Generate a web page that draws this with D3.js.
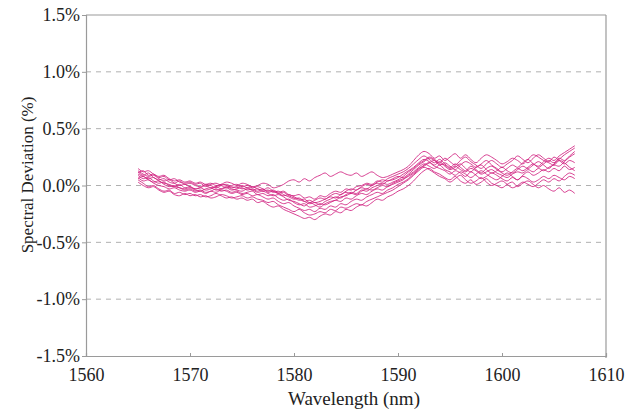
<!DOCTYPE html>
<html><head><meta charset="utf-8">
<script src="https://cdn.jsdelivr.net/npm/d3@7"></script>
<style>body{margin:0;background:#fff}svg{display:block}text{font-family:"Liberation Serif","Times New Roman",serif;fill:#222}</style>
</head><body><svg id="c" width="639" height="410"></svg>
<script>
const yTicks = [-1.5,-1.0,-0.5,0.0,0.5,1.0,1.5];
const xTicks = [1560,1570,1580,1590,1600,1610];
const wavelengths = [1565,1565.5,1566,1566.5,1567,1567.5,1568,1568.5,1569,1569.5,
1570,1570.5,1571,1571.5,1572,1572.5,1573,1573.5,1574,1574.5,
1575,1575.5,1576,1576.5,1577,1577.5,1578,1578.5,1579,1579.5,
1580,1580.5,1581,1581.5,1582,1582.5,1583,1583.5,1584,1584.5,
1585,1585.5,1586,1586.5,1587,1587.5,1588,1588.5,1589,1589.5,
1590,1590.5,1591,1591.5,1592,1592.5,1593,1593.5,1594,1594.5,
1595,1595.5,1596,1596.5,1597,1597.5,1598,1598.5,1599,1599.5,
1600,1600.5,1601,1601.5,1602,1602.5,1603,1603.5,1604,1604.5,
1605,1605.5,1606,1606.5,1607];
const sA = [0.10,0.08,0.06,0.07,0.04,0.02,0.01,-0.01,-0.02,-0.03,
-0.02,-0.04,-0.05,-0.03,-0.02,-0.04,-0.03,-0.01,-0.03,-0.04,
-0.05,-0.03,-0.04,-0.06,-0.05,-0.07,-0.09,-0.08,-0.10,-0.13,
-0.14,-0.16,-0.18,-0.15,-0.17,-0.19,-0.16,-0.14,-0.13,-0.10,
-0.09,-0.07,-0.08,-0.05,-0.03,-0.04,-0.02,0.00,-0.01,0.02,
0.04,0.06,0.08,0.11,0.15,0.17,0.20,0.22,0.19,0.18,
0.15,0.17,0.14,0.12,0.15,0.13,0.10,0.12,0.14,0.11,
0.09,0.07,0.10,0.12,0.11,0.14,0.12,0.15,0.13,0.16,
0.18,0.17,0.21,0.25,0.28];
const sB = [0.15,0.12,0.13,0.10,0.08,0.09,0.06,0.04,0.05,0.03,
0.04,0.02,0.03,0.01,0.02,0.00,0.01,0.03,0.02,0.00,
0.02,0.01,-0.01,0.00,0.02,0.01,-0.02,-0.01,0.01,0.04,
0.05,0.03,0.06,0.04,0.07,0.09,0.11,0.08,0.10,0.12,
0.10,0.09,0.11,0.08,0.10,0.12,0.09,0.07,0.08,0.10,
0.12,0.14,0.17,0.22,0.27,0.30,0.28,0.24,0.26,0.22,
0.25,0.28,0.24,0.27,0.23,0.20,0.24,0.27,0.25,0.22,
0.19,0.21,0.24,0.22,0.19,0.23,0.27,0.25,0.22,0.20,
0.18,0.22,0.20,0.16,0.13];
const sC = [0.05,0.02,-0.01,0.00,-0.03,-0.05,-0.04,-0.07,-0.06,-0.08,
-0.07,-0.09,-0.08,-0.10,-0.09,-0.07,-0.09,-0.11,-0.10,-0.12,
-0.11,-0.13,-0.12,-0.15,-0.14,-0.17,-0.19,-0.18,-0.21,-0.23,
-0.25,-0.27,-0.29,-0.28,-0.30,-0.27,-0.25,-0.26,-0.23,-0.24,
-0.21,-0.22,-0.19,-0.17,-0.18,-0.15,-0.12,-0.13,-0.10,-0.08,
-0.05,-0.03,0.00,0.04,0.09,0.13,0.15,0.12,0.10,0.07,
0.05,0.08,0.04,0.02,0.05,0.01,0.03,0.06,0.02,0.00,
-0.02,0.01,0.03,-0.01,0.02,0.04,0.01,-0.02,0.00,-0.03,
-0.05,-0.02,-0.06,-0.04,-0.07];
const sD = [0.12,0.09,0.11,0.07,0.05,0.06,0.03,0.02,0.04,0.01,
0.02,0.00,-0.01,0.01,0.00,-0.02,0.00,0.01,-0.01,-0.02,
0.00,-0.02,-0.01,-0.03,-0.04,-0.02,-0.05,-0.07,-0.06,-0.09,
-0.11,-0.13,-0.12,-0.15,-0.13,-0.11,-0.12,-0.09,-0.07,-0.08,
-0.05,-0.03,-0.04,-0.01,0.01,0.00,0.03,0.05,0.04,0.06,
0.08,0.07,0.10,0.14,0.18,0.21,0.24,0.22,0.18,0.20,
0.17,0.14,0.18,0.21,0.19,0.16,0.19,0.22,0.18,0.15,
0.12,0.15,0.18,0.16,0.20,0.23,0.19,0.17,0.21,0.24,
0.22,0.26,0.29,0.32,0.35];
const sE = [0.07,0.04,0.05,0.02,0.00,-0.01,-0.03,-0.02,-0.04,-0.05,
-0.04,-0.06,-0.05,-0.07,-0.05,-0.06,-0.04,-0.05,-0.07,-0.06,
-0.08,-0.07,-0.09,-0.08,-0.10,-0.12,-0.11,-0.14,-0.16,-0.15,
-0.18,-0.20,-0.22,-0.21,-0.23,-0.20,-0.21,-0.18,-0.19,-0.16,
-0.17,-0.14,-0.12,-0.13,-0.10,-0.08,-0.06,-0.07,-0.04,-0.02,
0.01,0.03,0.06,0.10,0.14,0.18,0.20,0.17,0.15,0.13,
0.10,0.13,0.11,0.08,0.12,0.09,0.06,0.08,0.11,0.09,
0.06,0.04,0.07,0.05,0.08,0.06,0.03,0.05,0.08,0.06,
0.09,0.07,0.05,0.08,0.06];
const sF = [0.13,0.10,0.08,0.09,0.06,0.04,0.05,0.02,0.00,0.01,
-0.01,-0.03,-0.02,-0.04,-0.03,-0.01,-0.03,-0.02,-0.04,-0.03,
-0.02,-0.04,-0.03,-0.05,-0.03,-0.06,-0.05,-0.07,-0.09,-0.08,
-0.10,-0.12,-0.14,-0.13,-0.15,-0.14,-0.12,-0.10,-0.11,-0.08,
-0.06,-0.07,-0.04,-0.02,-0.03,0.00,0.02,0.01,0.04,0.05,
0.07,0.10,0.13,0.16,0.20,0.23,0.21,0.18,0.21,0.17,
0.14,0.16,0.19,0.15,0.12,0.16,0.18,0.14,0.11,0.13,
0.16,0.13,0.11,0.14,0.17,0.15,0.18,0.21,0.18,0.15,
0.19,0.23,0.27,0.30,0.33];
const sG = [0.03,0.00,-0.02,-0.01,-0.04,-0.06,-0.05,-0.08,-0.09,-0.07,
-0.09,-0.08,-0.10,-0.09,-0.11,-0.10,-0.08,-0.09,-0.11,-0.10,
-0.09,-0.11,-0.10,-0.12,-0.13,-0.15,-0.14,-0.17,-0.19,-0.21,
-0.23,-0.21,-0.24,-0.26,-0.25,-0.23,-0.24,-0.21,-0.22,-0.19,
-0.20,-0.18,-0.16,-0.17,-0.14,-0.12,-0.10,-0.08,-0.06,-0.04,
-0.01,0.02,0.05,0.09,0.13,0.16,0.14,0.11,0.08,0.06,
0.03,0.06,0.09,0.05,0.02,0.04,0.07,0.03,0.00,0.02,
0.04,0.01,-0.02,0.00,0.03,0.01,-0.01,0.02,0.05,0.03,
0.06,0.04,0.08,0.11,0.09];
const sH = [0.09,0.06,0.07,0.04,0.02,0.03,0.00,-0.01,0.01,-0.02,
-0.01,-0.03,-0.02,0.00,-0.02,-0.01,0.01,0.00,-0.02,-0.01,
-0.03,-0.02,-0.04,-0.03,-0.05,-0.04,-0.06,-0.05,-0.08,-0.10,
-0.12,-0.11,-0.14,-0.16,-0.15,-0.17,-0.14,-0.12,-0.10,-0.11,
-0.08,-0.06,-0.07,-0.04,-0.05,-0.02,0.00,0.02,0.01,0.03,
0.05,0.08,0.12,0.15,0.19,0.22,0.25,0.23,0.20,0.24,
0.21,0.18,0.22,0.25,0.21,0.18,0.15,0.19,0.22,0.19,
0.16,0.19,0.22,0.26,0.23,0.20,0.24,0.27,0.24,0.21,
0.25,0.22,0.19,0.22,0.20];
const sI = [0.06,0.08,0.05,0.03,0.04,0.01,-0.01,0.00,-0.02,-0.04,
-0.03,-0.05,-0.04,-0.06,-0.05,-0.03,-0.05,-0.04,-0.06,-0.05,
-0.07,-0.06,-0.05,-0.08,-0.07,-0.09,-0.08,-0.11,-0.13,-0.12,
-0.15,-0.17,-0.16,-0.19,-0.18,-0.16,-0.17,-0.15,-0.13,-0.14,
-0.11,-0.12,-0.09,-0.07,-0.08,-0.05,-0.03,-0.04,-0.01,0.01,
0.03,0.05,0.09,0.12,0.16,0.19,0.17,0.15,0.18,0.14,
0.12,0.09,0.12,0.10,0.07,0.10,0.13,0.10,0.07,0.05,
0.08,0.11,0.08,0.05,0.09,0.12,0.09,0.11,0.14,0.12,
0.15,0.13,0.17,0.14,0.16];
const sJ = [0.11,0.13,0.09,0.10,0.07,0.08,0.05,0.06,0.03,0.02,
0.03,0.01,0.02,-0.01,0.01,0.02,0.00,-0.02,0.00,0.01,
-0.01,0.00,-0.02,-0.01,-0.03,-0.05,-0.04,-0.06,-0.05,-0.08,
-0.09,-0.08,-0.11,-0.10,-0.12,-0.09,-0.10,-0.07,-0.05,-0.06,
-0.03,-0.04,-0.01,0.00,0.02,0.01,0.04,0.03,0.06,0.08,
0.10,0.12,0.15,0.19,0.23,0.26,0.23,0.20,0.23,0.19,
0.16,0.19,0.16,0.13,0.17,0.14,0.11,0.15,0.17,0.14,
0.11,0.09,0.12,0.15,0.13,0.16,0.19,0.16,0.19,0.22,
0.20,0.24,0.22,0.26,0.30];
const seriesList = [sA,sB,sC,sD,sE,sF,sG,sH,sI,sJ];

const svg = d3.select("#c");
const L = 86, R = 606, T = 15, B = 356;
const x = d3.scaleLinear().domain([1560,1610]).range([L,R]);
const y = d3.scaleLinear().domain([-1.5,1.5]).range([B,T]);
const axisColor = "#9a9a9a";

// gridlines
svg.append("g").selectAll("line").data(yTicks.filter(v => v > -1.5 && v < 1.5)).join("line")
  .attr("x1", L).attr("x2", R).attr("y1", d => y(d)).attr("y2", d => y(d))
  .attr("stroke", "#b0b0b0").attr("stroke-width", 1).attr("stroke-dasharray", "5,5");

// frame top & right
svg.append("line").attr("x1", L).attr("x2", R).attr("y1", T).attr("y2", T).attr("stroke", axisColor).attr("stroke-width", 1.2);
svg.append("line").attr("x1", R).attr("x2", R).attr("y1", T).attr("y2", B + 2).attr("stroke", axisColor).attr("stroke-width", 1.2);

// y axis
const yAxis = d3.axisLeft(y).tickValues(yTicks).tickSize(4).tickPadding(2)
  .tickFormat(d => d.toFixed(1) + "%");
const gy = svg.append("g").attr("transform", `translate(${L},0)`).call(yAxis);
gy.select(".domain").attr("stroke", axisColor).attr("stroke-width", 1.2);
gy.selectAll(".tick line").attr("stroke", axisColor);
gy.selectAll("text").style("font-size", "18px").attr("fill", "#222");

// x axis
const xAxis = d3.axisBottom(x).tickValues(xTicks).tickSize(-3).tickPadding(12).tickFormat(d3.format("d"));
const gx = svg.append("g").attr("transform", `translate(0,${B})`).call(xAxis);
gx.select(".domain").attr("stroke", axisColor).attr("stroke-width", 1.2);
gx.selectAll(".tick line").attr("stroke", axisColor);
gx.selectAll("text").style("font-size", "18px").attr("fill", "#222");

// lines
const line = d3.line().x((d, i) => x(wavelengths[i])).y(d => y(d)).curve(d3.curveCatmullRom.alpha(0.5));
svg.append("g").selectAll("path").data(seriesList).join("path")
  .attr("d", line).attr("fill", "none")
  .attr("stroke", "#d0207f").attr("stroke-width", 1).attr("stroke-opacity", 0.85);

// titles
svg.append("text").attr("x", 354).attr("y", 405).attr("text-anchor", "middle")
  .style("font-size", "19px").text("Wavelength (nm)");
svg.append("text").attr("transform", "translate(27,175) rotate(-90)").attr("text-anchor", "middle")
  .attr("dy", "0.35em").style("font-size", "17px").text("Spectral Deviation (%)");
</script></body></html>
